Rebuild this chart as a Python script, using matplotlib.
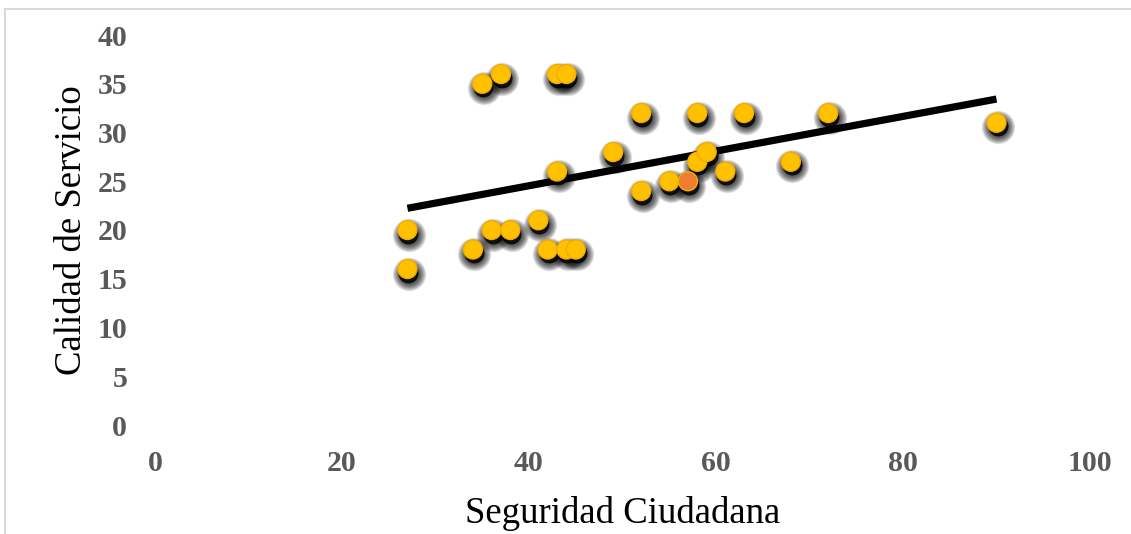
import numpy as np
import matplotlib
matplotlib.use("Agg")
import matplotlib.pyplot as plt
from matplotlib.transforms import ScaledTranslation
from matplotlib.patches import Rectangle

seguridad = [27, 27, 34, 35, 37, 36, 38, 41, 42, 44, 45, 43, 43, 44, 49, 52, 52,
             55, 57, 58, 58, 59, 61, 63, 68, 72, 90]
calidad = [20, 16, 18, 35, 36, 20, 20, 21, 18, 18, 18, 26, 36, 36, 28, 32, 24,
           25, 25, 32, 27, 28, 26, 32, 27, 32, 31]
highlight_index = 18  # point drawn in orange
x_ticks = [0, 20, 40, 60, 80, 100]
y_ticks = [0, 5, 10, 15, 20, 25, 30, 35, 40]

plt.rcParams['font.family'] = ['Liberation Serif', 'DejaVu Serif']

fig = plt.figure(figsize=(11.31, 5.34), dpi=100)
W, H = 1131, 534
ax = fig.add_axes([155 / W, 1 - 425 / H, (1090 - 155) / W, (425 - 35) / H])
ax.set_xlim(0, 100)
ax.set_ylim(0, 40)

x = np.array(seguridad, dtype=float)
y = np.array(calidad, dtype=float)

# blurred shadow
d = 19.0
for k in range(9, 0, -1):
    dia = d + 1.6 * k
    s = (dia * 72 / 100) ** 2
    off = ScaledTranslation(1.5 / 100, -4.5 / 100, fig.dpi_scale_trans)
    ax.scatter(x, y, s=s, color='black', alpha=0.10, linewidths=0,
               transform=ax.transData + off, zorder=1, clip_on=False)
off = ScaledTranslation(1.0 / 100, -3.5 / 100, fig.dpi_scale_trans)
ax.scatter(x, y, s=((d + 1) * 0.72) ** 2, color='black', alpha=0.85, linewidths=0,
           transform=ax.transData + off, zorder=1, clip_on=False)

# trendline
coef = np.polyfit(x, y, 1)
xl = np.array([x.min(), x.max()])
ax.plot(xl, np.polyval(coef, xl), color='black', lw=5.2, zorder=2,
        solid_capstyle='butt')

colors = ['#FFC000'] * len(x)
colors[highlight_index] = '#ED7D31'
ax.scatter(x, y, s=(d * 0.72) ** 2, c=colors, edgecolors='#F2AE00',
           linewidths=1.0, zorder=3, clip_on=False)

ax.set_xticks(x_ticks)
ax.set_yticks(y_ticks)
ax.set_xticklabels([str(t) for t in x_ticks])
ax.set_yticklabels([str(t) for t in y_ticks])
ax.tick_params(axis='both', length=0, labelsize=21.5, labelcolor='#595959')
ax.tick_params(axis='x', pad=18)
ax.tick_params(axis='y', pad=20)
for lab in ax.get_xticklabels() + ax.get_yticklabels():
    lab.set_fontweight('bold')
for sp in ax.spines.values():
    sp.set_visible(False)

ax.set_xlabel('Seguridad Ciudadana', fontsize=26.5, color='black', labelpad=14)
ax.set_ylabel('Calidad de Servicio', fontsize=26.5, color='black', labelpad=6)

fig.patches.append(Rectangle((5 / W, -0.1), 1.2, 1.1 - 9 / H, transform=fig.transFigure,
                             fill=False, edgecolor='#D9D9D9', lw=1.5))

fig.savefig('out.png', dpi=100)
